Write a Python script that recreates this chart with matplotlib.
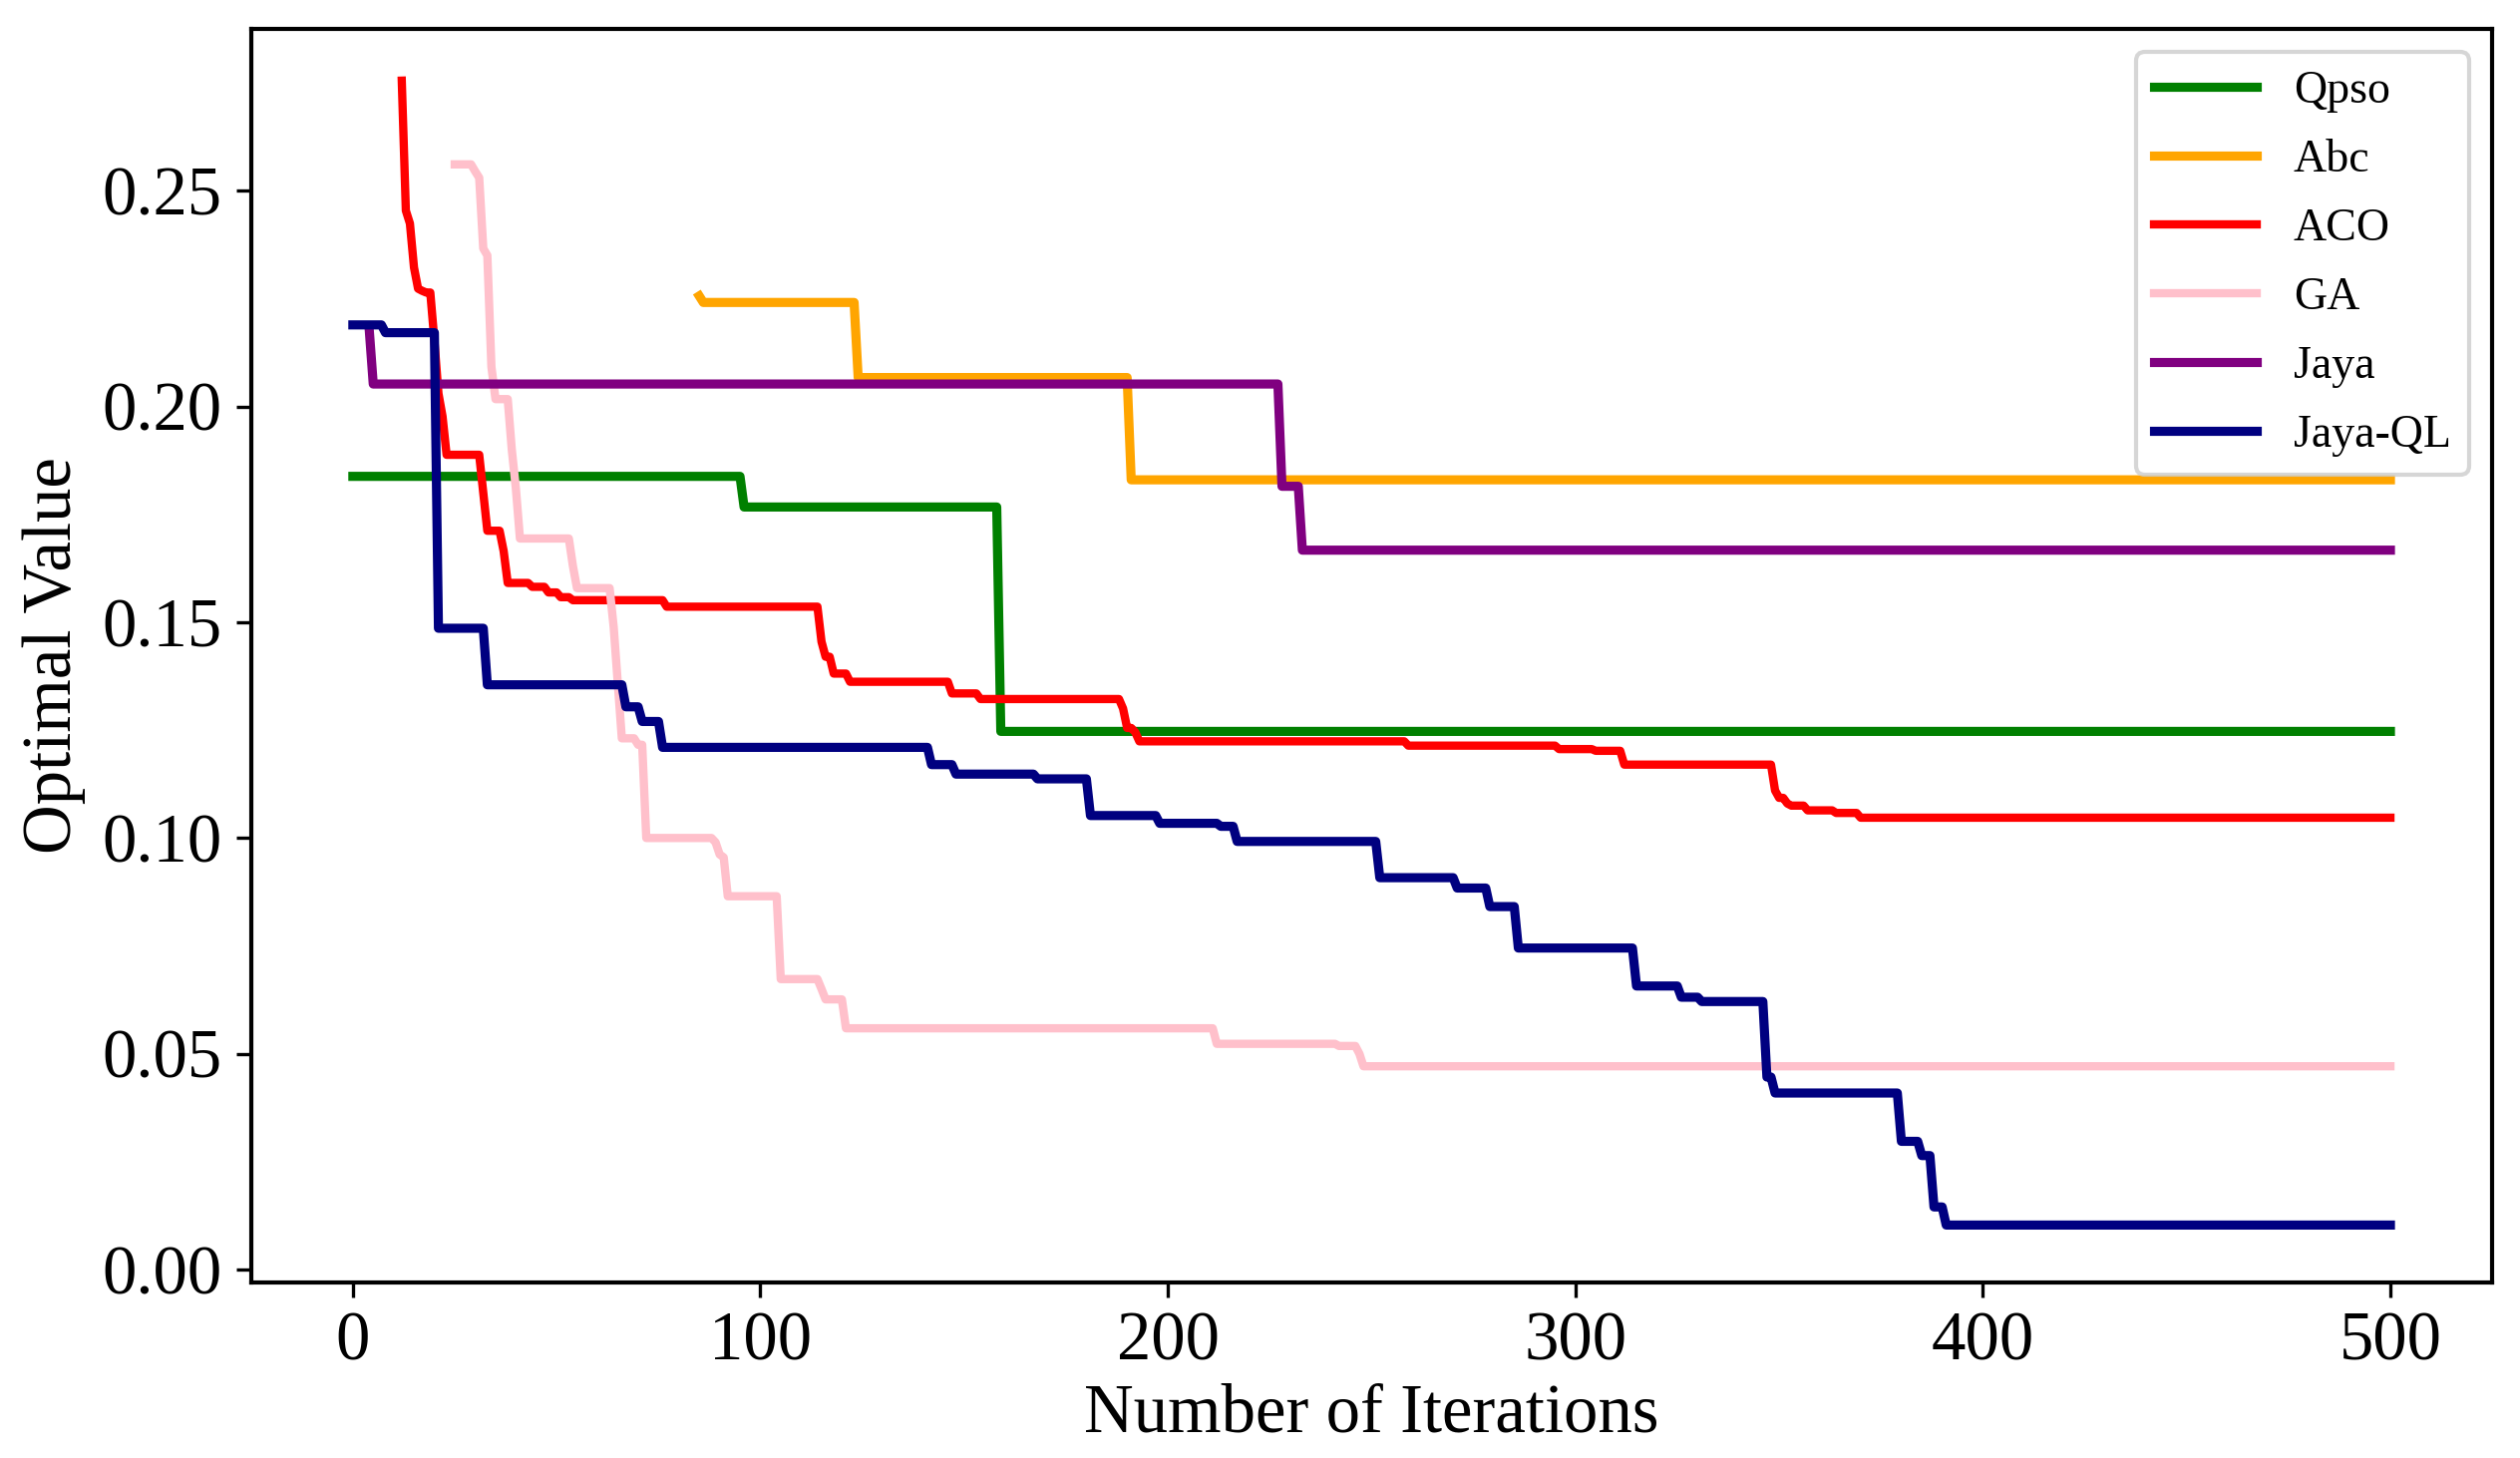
import numpy as np
import matplotlib
matplotlib.use("Agg")
import matplotlib.pyplot as plt

""" Convergence curves of the compared algorithms (best value per iteration). """

## =============================================================================
##
##  Data: iteration at which the best value changes, and the new value
##
## =============================================================================

n_iter = 500

qpso_it  = [0, 96, 159]
qpso_val = [0.1838, 0.1767, 0.1247]

abc_it  = [85, 86, 124, 191]
abc_val = [0.2256, 0.2241, 0.2067, 0.1830]

aco_it  = [12, 13, 14, 15, 16, 17, 18, 20, 21, 22, 23, 32, 33, 37, 38, 44, 48,
           51, 54, 77, 115, 116, 118, 122, 147, 154, 189, 190, 192, 193, 259,
           296, 305, 312, 349, 350, 352, 353, 357, 364, 370]
aco_val = [0.2755, 0.2454, 0.2424, 0.2322, 0.2273, 0.2268, 0.2264, 0.2153,
           0.2030, 0.1977, 0.1888, 0.1800, 0.1712, 0.1665, 0.1591, 0.1582,
           0.1569, 0.1558, 0.1551, 0.1536, 0.1455, 0.1420, 0.1381, 0.1362,
           0.1335, 0.1322, 0.1300, 0.1255, 0.1245, 0.1224, 0.1214, 0.1206,
           0.1202, 0.1170, 0.1110, 0.1093, 0.1080, 0.1075, 0.1064, 0.1058,
           0.1047]

ga_it  = [25, 30, 31, 32, 33, 34, 35, 39, 40, 41, 54, 55, 64, 65, 66, 70, 72,
          89, 90, 91, 92, 105, 115, 116, 121, 212, 242, 247, 248]
ga_val = [0.2561, 0.2545, 0.2530, 0.2366, 0.2350, 0.2092, 0.2017, 0.1900,
          0.1810, 0.1694, 0.1630, 0.1579, 0.1489, 0.1360, 0.1231, 0.1216,
          0.1000, 0.0990, 0.0962, 0.0955, 0.0865, 0.0673, 0.0650, 0.0626,
          0.0559, 0.0523, 0.0518, 0.0500, 0.0471]

jaya_it  = [4, 5, 228, 233]
jaya_val = [0.2180, 0.2052, 0.1815, 0.1667]

jayaql_it  = [0, 8, 21, 33, 67, 71, 76, 142, 148, 168, 181, 198, 213, 217, 252,
              271, 279, 286, 315, 326, 331, 347, 349, 380, 385, 388, 391]
jayaql_val = [0.2189, 0.2171, 0.1486, 0.1355, 0.1304, 0.1270, 0.1210, 0.1170,
              0.1148, 0.1137, 0.1052, 0.1034, 0.1027, 0.0992, 0.0908, 0.0884,
              0.0841, 0.0745, 0.0657, 0.0631, 0.0621, 0.0446, 0.0409, 0.0297,
              0.0264, 0.0145, 0.0103]

labels = ["Qpso", "Abc", "ACO", "GA", "Jaya", "Jaya-QL"]
colors = ["green", "orange", "red", "pink", "purple", "navy"]
widths = [2.2, 2.2, 2.0, 2.0, 2.2, 2.2]


def best_so_far(change_it, change_val, last=n_iter):
    """ Expand change points into one value per iteration (hold last best). """
    x = np.arange(change_it[0], last + 1)
    idx = np.searchsorted(change_it, x, side="right") - 1
    y = np.asarray(change_val)[idx]
    return x, y


## =============================================================================
##
##  Plot
##
## =============================================================================

if __name__ == '__main__':

    plt.rcParams['font.family'] = ['Liberation Serif', 'DejaVu Serif']

    fig = plt.figure(figsize=(2527 / 300, 1462 / 300), dpi=300)
    ax = fig.add_axes([0.0996, 0.1204, 0.8894, 0.8598])

    series = [(qpso_it, qpso_val), (abc_it, abc_val), (aco_it, aco_val),
              (ga_it, ga_val), (jaya_it, jaya_val), (jayaql_it, jayaql_val)]

    for (c_it, c_val), lab, col, lw in zip(series, labels, colors, widths):
        x, y = best_so_far(c_it, c_val)
        ax.plot(x, y, color=col, linewidth=lw, label=lab)

    ax.set_xlim(-25, 525)
    ax.set_ylim(-0.003, 0.2875)
    ax.set_xticks([0, 100, 200, 300, 400, 500])
    ax.set_yticks([0.00, 0.05, 0.10, 0.15, 0.20, 0.25])
    ax.tick_params(labelsize=16.5)
    for sp in ax.spines.values():
        sp.set_linewidth(1.0)

    ax.set_xlabel("Number of Iterations", fontsize=16.5, labelpad=2)
    ax.set_ylabel("Optimal Value", fontsize=16.5)

    ax.legend(loc="upper right", fontsize=11, handlelength=2.25,
              labelspacing=0.58)

    fig.savefig("out.png", dpi=300)
    plt.close(fig)
